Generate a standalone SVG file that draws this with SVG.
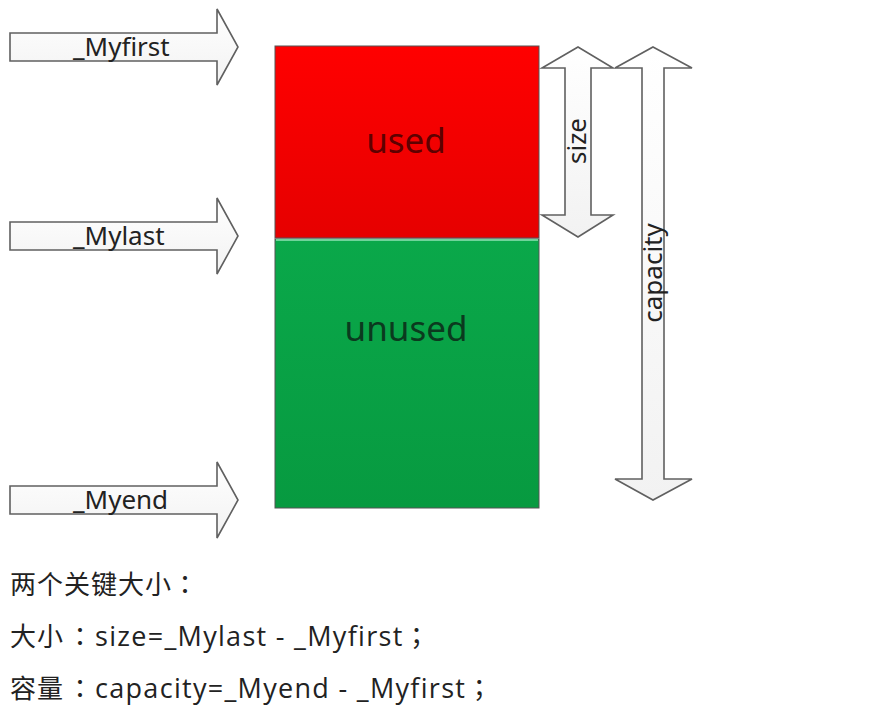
<svg xmlns="http://www.w3.org/2000/svg" width="872" height="712" viewBox="0 0 872 712">
<style>
.arr{fill:url(#ag);stroke:#606060;stroke-width:1.6;stroke-linejoin:miter}
.lbl{font-family:"Noto Sans","Open Sans",sans-serif;font-size:26px;fill:#222}
.big{font-family:"Noto Sans","Open Sans",sans-serif;font-size:35px;text-anchor:middle}
.txt{font-family:"Noto Sans CJK SC","Noto Sans",sans-serif;font-size:26px;fill:#222;letter-spacing:1px}
.p{font-family:"Noto Sans CJK TC","Noto Sans CJK SC",sans-serif}
.lat{font-family:"Open Sans","Noto Sans",sans-serif;font-size:27px;letter-spacing:1.3px}
</style>
<defs>
<linearGradient id="ag" x1="0" y1="0" x2="0" y2="1"><stop offset="0" stop-color="#ffffff"/><stop offset="1" stop-color="#f2f2f2"/></linearGradient>
<linearGradient id="rg" x1="0" y1="0" x2="0" y2="1"><stop offset="0" stop-color="#ff0000"/><stop offset="1" stop-color="#e60000"/></linearGradient>
<linearGradient id="gg" x1="0" y1="0" x2="0" y2="1"><stop offset="0" stop-color="#0aa84a"/><stop offset="1" stop-color="#079a40"/></linearGradient>
</defs>
<rect width="872" height="712" fill="#fff"/>
<g id="used">
<rect x="275" y="46" width="264" height="192" fill="url(#rg)" stroke="#555" stroke-width="1"/>
<text class="big" x="406" y="153" fill="#5e0000">used</text>
</g>
<g id="unused">
<rect x="275" y="239" width="264" height="269" fill="url(#gg)" stroke="#555" stroke-width="1"/>
<line x1="276" y1="240" x2="538" y2="240" stroke="#6fd39a" stroke-width="2"/>
<text class="big" x="406" y="341" fill="#0b3a1e">unused</text>
</g>
<g id="connectors">
<g id="myfirst">
<path class="arr" d="M10,33 H217 V9 L238,47 L217,85 V61 H10 Z"/>
<text class="lbl" x="73" y="56">_Myfirst</text>
</g>
<g id="mylast">
<path class="arr" d="M10,222 H217 V198 L238,236 L217,274 V250 H10 Z"/>
<text class="lbl" x="73" y="245">_Mylast</text>
</g>
<g id="myend">
<path class="arr" d="M10,486 H217 V462 L238,500 L217,538 V514 H10 Z"/>
<text class="lbl" x="73" y="509">_Myend</text>
</g>
<g id="size">
<path class="arr" d="M578,47 L613,68 H591 V215 H613 L578,237 L542,215 H565 V68 H542 Z"/>
<text class="lbl" transform="translate(586,141) rotate(-90)" text-anchor="middle">size</text>
</g>
<g id="capacity">
<path class="arr" d="M653,47 L692,68 H664 V479 H692 L653,500 L615,479 H642 V68 H615 Z"/>
<text class="lbl" transform="translate(662,273) rotate(-90)" text-anchor="middle">capacity</text>
</g>
</g>
<g id="notes">
<text class="txt" x="10" y="594">两个关键大小<tspan class="p">：</tspan></text>
<text class="txt" x="10" y="646">大小<tspan class="p" x="67">：</tspan><tspan class="lat" x="95">size=_Mylast - _Myfirst</tspan><tspan class="p">；</tspan></text>
<text class="txt" x="10" y="698">容量<tspan class="p" x="67">：</tspan><tspan class="lat" x="95">capacity=_Myend - _Myfirst</tspan><tspan class="p">；</tspan></text>
</g>
</svg>
